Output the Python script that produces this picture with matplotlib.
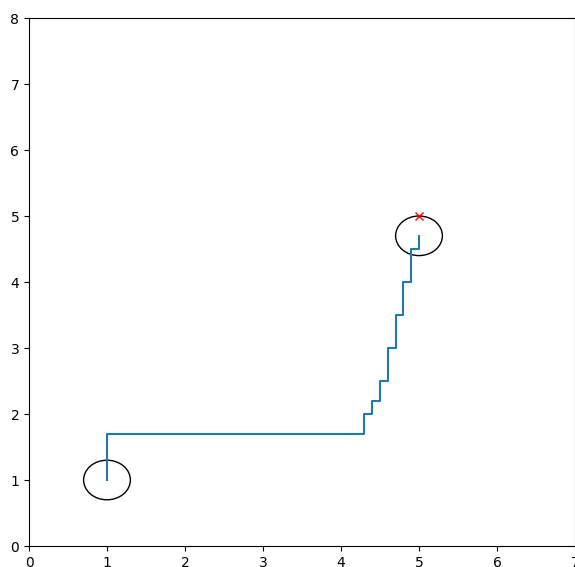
import matplotlib
matplotlib.use("Agg")
import matplotlib.pyplot as plt
from matplotlib.patches import Circle

# path waypoints (staircase from start to goal)
path_x = [1.0, 1.0, 4.3, 4.3, 4.4, 4.4, 4.5, 4.5, 4.6, 4.6, 4.7, 4.7, 4.8, 4.8, 4.9, 4.9, 5.0, 5.0]
path_y = [1.0, 1.7, 1.7, 2.0, 2.0, 2.2, 2.2, 2.5, 2.5, 3.0, 3.0, 3.5, 3.5, 4.0, 4.0, 4.5, 4.5, 4.7]

start = (1.0, 1.0)
end = (5.0, 4.7)
goal = (5.0, 5.0)
radius = 0.3

fig = plt.figure(figsize=(5.75, 5.67), dpi=100)
ax = fig.add_axes([29 / 575, 21 / 567, 546 / 575, 528 / 567])

ax.plot(path_x, path_y)
ax.add_patch(Circle(start, radius, fill=False, edgecolor="black"))
ax.add_patch(Circle(end, radius, fill=False, edgecolor="black"))
ax.plot(goal[0], goal[1], "rx")

ax.set_xlim(0, 7)
ax.set_ylim(0, 8)

plt.savefig("out.png", dpi=100)
plt.close(fig)
